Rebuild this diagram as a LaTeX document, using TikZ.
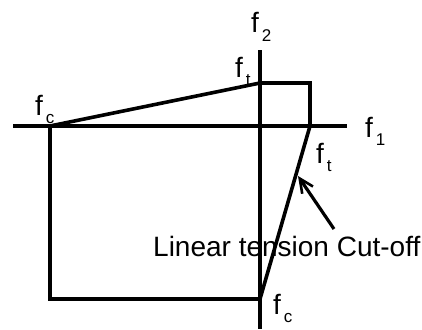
\documentclass[tikz,border=0pt]{standalone}
\usepackage{fontspec}
\setmainfont{Liberation Sans}
\usetikzlibrary{arrows.meta}
\tikzset{
  axis/.style={line width=3.4pt},
  bound/.style={line width=3.6pt, line join=miter},
  lbl/.style={font=\fontsize{28}{28}\selectfont, inner sep=0pt},
  pointer/.style={line width=3.2pt, -{Straight Barb[length=14pt,width=13pt,line width=2.6pt]}},
}
\newcommand{\fsub}[1]{f\raisebox{-0.55ex}{\fontsize{17}{17}\selectfont\,#1}}
\begin{document}
\begin{tikzpicture}[x=1pt,y=-1pt]
  \useasboundingbox (0,0) rectangle (422,329);
  % axes
  \coordinate (xl) at (13,126);
  \coordinate (xr) at (347,126);
  \coordinate (yt) at (260,50);
  \coordinate (yb) at (260,329);
  \draw[axis] (xl) -- (xr);
  \draw[axis] (yt) -- (yb);
  % failure surface
  \coordinate (fcl) at (50,126);
  \coordinate (ftt) at (260,83);
  \coordinate (tr) at (310,83);
  \coordinate (ftr) at (310,126);
  \coordinate (fcb) at (260,299);
  \coordinate (bl) at (50,299);
  \draw[bound] (fcl) -- (ftt) -- (tr) -- (ftr) -- (fcb) -- (bl) -- cycle;
  % labels
  \node[lbl,anchor=base west] (f2) at (251,33) {\fsub{2}};
  \node[lbl,anchor=base west] (f1) at (365,137) {\fsub{1}};
  \node[lbl,anchor=base west] (ftop) at (235,77) {\fsub{t}};
  \node[lbl,anchor=base west] (fcleft) at (35,115) {\fsub{c}};
  \node[lbl,anchor=base west] (fright) at (316,163) {\fsub{t}};
  \node[lbl,anchor=base west] (fcbot) at (273,314) {\fsub{c}};
  \node[lbl,anchor=base west] (cutoff) at (153,256) {Linear tension Cut-off};
  % pointer to cut-off line
  \coordinate (tip) at (298,176);
  \coordinate (tail) at (334,229);
  \draw[pointer] (tail) -- (tip);
\end{tikzpicture}
\end{document}
